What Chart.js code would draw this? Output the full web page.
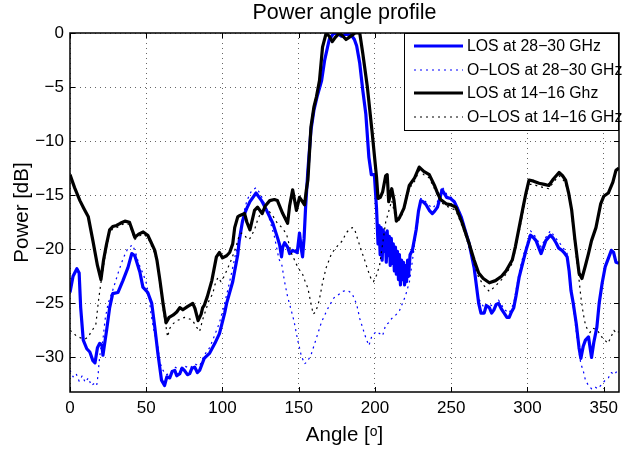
<!DOCTYPE html>
<html>
<head>
<meta charset="utf-8">
<script src="https://cdn.jsdelivr.net/npm/chart.js@4.4.1/dist/chart.umd.min.js"></script>
<style>
  html, body { margin: 0; padding: 0; background: #fff; }
  #wrap { width: 624px; height: 454px; }
</style>
</head>
<body>
<div id="wrap"><canvas id="c" width="624" height="454"></canvas></div>
<script>
// ---------------- data ----------------
const chartTitle = 'Power angle profile';
const xTitle = 'Angle [\u1D52]';
const yTitle = 'Power [dB]';
const xTicks = [0, 50, 100, 150, 200, 250, 300, 350];
const yTicks = [-30, -25, -20, -15, -10, -5, 0];
const seriesNames = ['LOS at 28\u221230 GHz', 'O\u2212LOS at 28\u221230 GHz', 'LOS at 14\u221216 Ghz', 'O\u2212LOS at 14\u221216 GHz'];

const los28Angle = [0,2,4.5,6,7,8.7,11,13,15,16.4,18,19.5,21,21.6,24,26,28,31.4,34.7,38,40.5,42.5,45.8,47.8,51,53.6,55.6,57.6,60,62,63.5,65.4,67,68.7,70,72,73.5,75,77,78.5,80,81.8,83.5,85,88,91.6,95,98,101.4,102.7,104.7,106.7,108,110,111,113,114.5,116,118,120,122,125.6,128.9,133,136,137.5,138.7,139.5,140.7,142.7,144,146,147.5,149,150.5,151.8,152.5,153.5,154.5,156,158,160,162,165,167,170,173,176,178,181,184.5,186.5,188,190,192,194,196,197.6,199.6,201,202,202.7,203.4,204,204.7,205.4,206,206.7,207.4,208,208.7,209.4,210,210.7,211.4,212,212.7,213.4,214,214.7,215.4,216,216.7,217.4,218,218.7,219.4,220,220.7,221.4,222,223,224.5,227,228.5,230,231.5,233.6,235.6,237.6,239,241,244,247,249.5,252,254,256.5,259,261.8,265,268,269.5,271.6,273,275,276.5,278,279.5,281,282.8,284.7,286.5,288,289.5,291,292.5,294.5,297,299,302,303.8,305.6,308.9,310.5,312,315,317,318.7,320.5,322.6,324,326,327.3,328.5,330,332,333.8,335,336.5,338,340,342,343.5,345.5,347,349,351,353.4,355,356.5,358,360];
const los28Power = [-24,-22.5,-21.8,-22.2,-25.4,-28.4,-29.2,-29.5,-30.3,-30.5,-29.1,-28.7,-28.9,-29.8,-27.5,-25.4,-24.1,-24,-22.9,-21.7,-20.4,-20.6,-22.1,-23.5,-24,-25,-27.2,-29.6,-32.1,-32.6,-31.8,-31.9,-31.3,-31.2,-31.7,-31.5,-31,-31.2,-31.6,-31.5,-31,-30.9,-31.4,-31.2,-30.1,-29.6,-28.7,-27.8,-25.9,-25,-24,-23,-22,-20.5,-19.2,-17.5,-16.7,-16.2,-15.6,-15.2,-14.8,-15.5,-16.4,-17.6,-18.9,-19.6,-20.7,-19.8,-19.4,-19.8,-20.4,-20.1,-20.2,-20.3,-18.5,-20.1,-20.7,-19,-16.1,-12.7,-9,-7.1,-5.9,-4.4,-2.5,-0.6,0,-0.1,-0.3,-0.1,-0.2,-0.6,-1.2,-2.8,-5.3,-7.5,-11.5,-13.1,-13.1,-16.2,-19.5,-17.8,-20.5,-18,-21,-18.2,-20.2,-18.5,-21.2,-18.3,-20.6,-18.8,-21.5,-19,-21.3,-19.5,-22,-19.8,-22.3,-20.2,-22.8,-20.5,-23.3,-21,-22.8,-21.2,-23.3,-21.5,-23,-21,-22.5,-20.5,-20.1,-18.2,-16.5,-15.5,-15.6,-15.9,-16.4,-16.7,-16.5,-16.1,-14.5,-15.2,-15.3,-15.6,-16.2,-17,-18.2,-19.5,-21.7,-25,-25.9,-25.9,-25.2,-25.4,-25.9,-25.6,-25.1,-25,-25.5,-25.9,-26.3,-26.3,-25.8,-25.4,-24.3,-22.6,-21.2,-20.1,-18.7,-18.9,-19.2,-20.4,-19.8,-19.2,-18.7,-19,-19.4,-19.9,-20.1,-20.3,-20.7,-22,-23.8,-25,-26.9,-29.1,-30.1,-29,-28.4,-28.1,-30,-28.6,-27.2,-25,-23.1,-21.6,-20.7,-20.1,-20.3,-21.2,-21.3];

const olos28Angle = [0,2,4,6,8,10,12,14,16,17.5,18.5,19,20,21.5,23,25,28,32,35,38,41,43,45,48,50,52,53,55,57.6,59,61,63,65.4,68.7,72,75,78.5,81.8,85,88,91.6,95,98,101.4,104.7,107,110,113,116,119,122,125,128,131,134,137,139,140.7,142.7,145,147,149,151.6,153.8,155.5,158,161.6,165,169,173,176,179,181,183,185,188,190,192,194,196,198,201,203,205,207,209,211,213.5,216,218,220,222.6,224.5,226,228,230,232,235,238,241,244,247,250,253,256.5,260,263,266,268,272,275,278,281,285,288,291,294.5,297,299,302,305.6,309,312,315,318.7,322.6,326,328.5,331,333,335,336.5,338,340,342,344,346,348,351,353,355,357,359,360];
const olos28Power = [-31.2,-31.8,-31.5,-32.2,-31.7,-32.3,-31.9,-32.6,-32.4,-32.6,-31.5,-30.6,-29.3,-28.5,-26.5,-25,-23.8,-22,-20.8,-19.9,-19.6,-20.3,-21.3,-22.3,-23.1,-24.5,-25.9,-27.5,-29,-30.5,-31.2,-31.6,-31.5,-30.9,-31.1,-30.8,-31,-30.6,-30.8,-29.8,-29.1,-27.9,-26.8,-25,-23,-21.5,-19.5,-17.2,-15.5,-14.6,-14.3,-14.9,-16,-17.3,-18.8,-20.9,-21.5,-23,-24.4,-25.6,-26.7,-28.2,-29.8,-30.6,-30.4,-29.8,-28.2,-26.7,-25.5,-24.5,-24.2,-23.9,-23.8,-23.9,-24.1,-25.1,-26.4,-27.3,-28.2,-28.9,-28,-27.6,-27.8,-28,-27,-26.8,-26.4,-26.1,-25.7,-25,-24.3,-23,-21.1,-19.5,-17.5,-15.3,-15.4,-15.9,-16.2,-15.6,-14.2,-14.9,-15.2,-15.8,-16.8,-18.5,-20.5,-23,-24.6,-25.5,-25.1,-25.3,-24.7,-25.6,-25.9,-25,-22.2,-20.7,-19.8,-18.3,-18.9,-19.8,-18.9,-18.3,-19,-19.7,-20.4,-23.4,-26.5,-28.8,-30.6,-31.2,-32.1,-32.6,-32.9,-32.7,-32.9,-32.6,-32.1,-31.9,-31.4,-31.6,-31.2,-31.3];

const los14Angle = [0,3,6.5,9,12,15,18,20.3,22,24,26,28,30.5,33,36,39,42.5,45,48,51,53,55.6,57,59,61,63,65,67.5,70,72,74,77,80.5,82,84,86,87,88,90,93,96,98,100,102.7,104.7,106.7,108,110,111,114.5,116,118,121,123,126,128,131,134,136,139.5,142.7,144,146,148.5,150.5,152,153.8,155,156,158,160,161.6,163.6,165.6,168,170,172,174,176.7,179,181,183,185,187,190,192,195,198,201,202,203.5,205,207,208,209,211,212.5,214,216,219,222.5,226,229,232,235.6,239,241,243,246.7,250,253,257,261.8,265,268,271,275,279,283,286,290,292,294.5,297,299,301,304,307.6,311,314,317,320.7,323,325,327,329,331,333.8,335.7,338,340,342,344.9,348,350,353,356,358,360];
const los14Power = [-13.1,-14.3,-15.5,-16.2,-17,-19.2,-21.5,-22.8,-21,-19.5,-18.2,-17.9,-17.8,-17.6,-17.4,-17.5,-18.9,-18.6,-18.4,-18.7,-19.3,-20.1,-21,-22.9,-25,-26.8,-26.3,-26.1,-25.8,-25.4,-25.6,-25.3,-25,-25.5,-26.6,-26,-25.4,-25.2,-24.4,-22.9,-20.7,-20.3,-20.8,-20.6,-20.3,-19.5,-18,-17,-16.9,-16.7,-17.5,-18.2,-16.4,-16.1,-16.7,-16,-15.5,-15.4,-15.5,-16.7,-17.6,-16,-14.5,-16.4,-15.2,-15.5,-15.9,-14.5,-13.6,-8.7,-6.8,-5.9,-4.4,-1.3,0,-0.3,-0.8,-0.4,0,-0.3,-0.6,-0.4,-0.2,0,0,-1.9,-5,-9,-13.3,-15.3,-15.2,-14.7,-13.2,-13.1,-15.6,-14.4,-15.5,-17.4,-17.1,-16.2,-14.1,-13.4,-12.4,-12.8,-13.1,-14.1,-14.8,-15.4,-15.8,-15.9,-16.1,-17.5,-19.5,-21,-22.2,-22.7,-23.1,-22.9,-22.5,-22,-21,-19.8,-18,-16.2,-14.8,-13.6,-13.7,-13.9,-14,-14.1,-13.5,-12.9,-13.2,-13.6,-14.8,-16.4,-19,-22.2,-22.7,-21.5,-20.4,-19.2,-18,-15.8,-15.1,-14.8,-13.8,-12.7,-12.5];

const olos14Angle = [0,2,4,7,10,12,14,16,17,18,19,20.3,22,24,26,28,30.5,33,36,39,42.5,45,48,51,53,55.6,57,59,61,63,64,65.5,67.5,70,72,75,77,80,83,85,87,89.6,91,93.6,95,97,99,100,102.7,106,109,111,112.5,114.5,116.5,118,121,123,125.5,127.6,130,133,136,139,142,145,148.5,150.5,152.5,154,156,158,159.5,161,162.5,163.6,165.6,168,171.5,174.7,178.7,181,183,185,186.5,188.5,191,193,195,197.6,199,201,203,205,207,209,211,213,215,217,219,222.5,226,229,232,235.6,239,241,243,246.7,250,253,257,261.8,265,268,271,275,279,283,286,290,292,294.5,297,299,301,304,307.6,311,314,317,320.7,323,325,327,329,331,333.8,335,336.5,338,339.6,341,343,346,348,350,352.7,354.5,356.7,358.5,360];
const olos14Power = [-27.5,-27.7,-28,-28.2,-28.3,-28.1,-27.6,-27.2,-26.9,-25.6,-24.4,-23.1,-21.5,-19.8,-18.5,-18.1,-18,-17.8,-17.6,-17.7,-19.1,-18.8,-18.6,-18.9,-19.5,-20.4,-21.3,-23.2,-25.5,-27.2,-28.1,-27.3,-26.9,-26.6,-26.5,-26.3,-26.4,-26.5,-27.2,-27.6,-26.5,-25.4,-24.8,-24.1,-23.3,-22.6,-23,-22.8,-22,-20.9,-19.7,-18.7,-18.5,-18.7,-19.1,-19,-18.2,-17.3,-16.5,-16.1,-16.4,-16.9,-17.6,-18,-18.6,-20.3,-21.4,-21.9,-22.3,-22.9,-23.6,-25,-26,-25.8,-25.2,-24.6,-23.1,-21.7,-20.4,-19.8,-19.2,-18.5,-18.2,-18,-18.1,-19,-20.1,-20.9,-21.8,-22.8,-23,-22.4,-21.5,-19.5,-17.5,-16.5,-15.5,-16.8,-17.5,-17,-16.4,-14.4,-13.7,-12.7,-13.1,-13.4,-14.4,-15,-15.6,-16,-16.2,-16.4,-17.8,-19.8,-21.4,-22.6,-23.3,-23.9,-23.4,-22.8,-22.3,-21.3,-20.1,-18.4,-16.6,-15.1,-14,-14,-14.2,-14.3,-14.4,-13.8,-13.2,-13.5,-13.9,-15.1,-16.8,-19.5,-22.8,-24.4,-25.9,-27,-27.5,-27.7,-27.3,-27.5,-28,-28.3,-28.7,-28.2,-27.5,-27.8,-27.6];

// ---------------- helpers ----------------
const zip = (xs, ys) => xs.map((x, i) => ({ x: x, y: ys[i] }));
const FONT = '"Liberation Sans", Arial, Helvetica, sans-serif';
const minus = v => (v < 0 ? '\u2212' + Math.abs(v) : String(v));

const BLUE = '#0000ff';
const BLACK = '#000000';
const DOT = [2, 4];

const datasets = [
  { label: seriesNames[0], data: zip(los28Angle, los28Power), borderColor: BLUE, borderWidth: 3.2, order: 4 },
  { label: seriesNames[1], data: zip(olos28Angle, olos28Power), borderColor: BLUE, borderWidth: 1.2, borderDash: DOT, order: 3 },
  { label: seriesNames[2], data: zip(los14Angle, los14Power), borderColor: BLACK, borderWidth: 3.2, order: 2 },
  { label: seriesNames[3], data: zip(olos14Angle, olos14Power), borderColor: BLACK, borderWidth: 1.2, borderDash: DOT, order: 1 }
].map(d => Object.assign({ pointRadius: 0, tension: 0, fill: false, borderJoinStyle: 'round' }, d));

// frame, inward ticks, title
const framePlugin = {
  id: 'frame',
  afterDatasetsDraw(chart) {
    const { ctx, chartArea: a, scales: { x, y } } = chart;
    ctx.save();
    ctx.strokeStyle = '#000';
    ctx.lineWidth = 1;
    ctx.beginPath();
    xTicks.forEach(v => {
      const px = Math.round(x.getPixelForValue(v)) + 0.5;
      ctx.moveTo(px, a.bottom); ctx.lineTo(px, a.bottom - 5);
      ctx.moveTo(px, a.top); ctx.lineTo(px, a.top + 5);
    });
    yTicks.forEach(v => {
      const py = Math.round(y.getPixelForValue(v)) + 0.5;
      ctx.moveTo(a.left, py); ctx.lineTo(a.left + 5, py);
      ctx.moveTo(a.right, py); ctx.lineTo(a.right - 5, py);
    });
    ctx.stroke();
    ctx.lineWidth = 1.5;
    ctx.strokeRect(a.left, a.top, a.right - a.left, a.bottom - a.top);
    // title
    ctx.fillStyle = '#000';
    ctx.font = '21.5px ' + FONT;
    ctx.textAlign = 'center';
    ctx.textBaseline = 'middle';
    ctx.fillText(chartTitle, (a.left + a.right) / 2, 13);
    ctx.restore();
  }
};

// legend box inside the axes
const legendPlugin = {
  id: 'boxLegend',
  afterDraw(chart) {
    const { ctx, chartArea: a } = chart;
    const bx = 404, by = a.top, bw = a.right - bx, bh = 97;
    ctx.save();
    ctx.fillStyle = '#fff';
    ctx.fillRect(bx, by, bw, bh);
    const rows = [46, 70, 93, 117];
    chart.data.datasets.forEach((ds, i) => {
      const yy = rows[i];
      ctx.beginPath();
      ctx.strokeStyle = ds.borderColor;
      ctx.lineWidth = ds.borderWidth;
      ctx.setLineDash(ds.borderDash || []);
      ctx.moveTo(414, yy); ctx.lineTo(463, yy);
      ctx.stroke();
      ctx.setLineDash([]);
      ctx.fillStyle = '#000';
      ctx.font = '15.8px ' + FONT;
      ctx.textAlign = 'left';
      ctx.textBaseline = 'middle';
      ctx.fillText(ds.label, 467, yy + 1);
    });
    ctx.strokeStyle = '#000';
    ctx.lineWidth = 1;
    ctx.strokeRect(bx + 0.5, by + 0.5, bw - 1, bh);
    ctx.restore();
  }
};

new Chart(document.getElementById('c'), {
  type: 'line',
  data: { datasets: datasets },
  plugins: [framePlugin, legendPlugin],
  options: {
    responsive: false,
    animation: false,
    devicePixelRatio: 1,
    layout: { padding: { top: 33, right: 3, left: 0, bottom: 0 } },
    plugins: { legend: { display: false }, title: { display: false }, tooltip: { enabled: false } },
    scales: {
      x: {
        type: 'linear', min: 0, max: 360,
        afterFit(s) { s.height = 62; },
        afterBuildTicks(s) { s.ticks = xTicks.map(v => ({ value: v })); },
        grid: { color: 'rgba(0,0,0,0.6)', borderDash: [1, 4], drawTicks: false },
        border: { display: false, dash: [1, 4] },
        ticks: { color: '#000', font: { family: FONT, size: 17 }, padding: 6, maxRotation: 0, autoSkip: false },
        title: { display: true, text: xTitle, color: '#000', font: { family: FONT, size: 20.5 }, padding: { top: 0, bottom: 6 } }
      },
      y: {
        type: 'linear', min: -33.2, max: 0,
        afterFit(s) { s.width = 70; },
        afterBuildTicks(s) { s.ticks = yTicks.map(v => ({ value: v })); },
        grid: { color: 'rgba(0,0,0,0.6)', borderDash: [1, 4], drawTicks: false },
        border: { display: false, dash: [1, 4] },
        ticks: { color: '#000', font: { family: FONT, size: 17 }, padding: 6, callback: v => minus(v), autoSkip: false },
        title: { display: true, text: yTitle, color: '#000', font: { family: FONT, size: 20.5 }, padding: { top: 10, bottom: 0 } }
      }
    }
  }
});
</script>
</body>
</html>
